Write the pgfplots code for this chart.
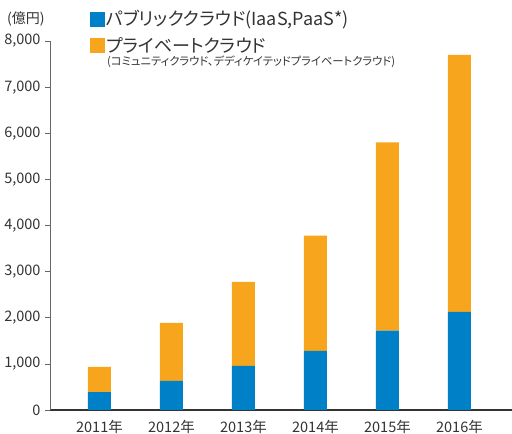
\documentclass[border=0pt]{standalone}
\usepackage{fontspec}
\setmainfont{Noto Sans CJK JP}[RawFeature=+palt]
\usepackage{pgfplots}
\pgfplotsset{compat=1.18}
\definecolor{cblue}{HTML}{0080C6}
\definecolor{corange}{HTML}{F7A51C}
\definecolor{ctext}{HTML}{333333}
\begin{document}
\begin{tikzpicture}[x=1bp,y=1bp]
\useasboundingbox (0,0) rectangle (512,434);
\begin{axis}[
  at={(50bp,24bp)}, anchor=south west,
  scale only axis, width=462bp, height=369bp,
  xmin=-0.6875, xmax=5.73, ymin=0, ymax=8000,
  axis lines=left,
  x axis line style={-, line width=1.1pt, ctext},
  y axis line style={-, line width=0.6pt, black!60},
  ybar stacked, bar width=23bp,
  xtick={0,1,2,3,4,5},
  xticklabels={2011年,2012年,2013年,2014年,2015年,2016年},
  x tick style={draw=none},
  ytick={0,1000,...,8000},
  y tick style={line width=0.6pt, black!60},
  tick align=outside, major tick length=5bp,
  /pgf/number format/assume math mode=true,
  /pgf/number format/1000 sep={,},
  scaled y ticks=false,
  tick label style={font=\fontsize{14.5bp}{16bp}\selectfont, text=ctext},
  xticklabel style={yshift=-2bp},
  yticklabel style={xshift=-1bp},
]
\addplot[fill=cblue, draw=none] coordinates {(0,390) (1,630) (2,955) (3,1280) (4,1720) (5,2130)};
\addplot[fill=corange, draw=none] coordinates {(0,545) (1,1260) (2,1825) (3,2500) (4,4080) (5,5570)};
\end{axis}
\node[anchor=west, text=ctext, font=\fontsize{14bp}{16bp}\selectfont, inner sep=0] at (7,415) {(億円)};
\fill[cblue] (90,407) rectangle (105,422);
\node[anchor=west, text=ctext, font=\fontsize{18bp}{20bp}\selectfont, inner sep=0] at (106,414.5) {パブリッククラウド(IaaS,PaaS*)};
\fill[corange] (90,381) rectangle (105,396);
\node[anchor=west, text=ctext, font=\fontsize{18bp}{20bp}\selectfont, inner sep=0] at (106,389) {プライベートクラウド};
\node[anchor=west, text=ctext, font=\fontsize{11.3bp}{13bp}\selectfont, inner sep=0] at (107,372) {(コミュニティクラウド、デディケイテッドプライベートクラウド)};
\end{tikzpicture}
\end{document}
